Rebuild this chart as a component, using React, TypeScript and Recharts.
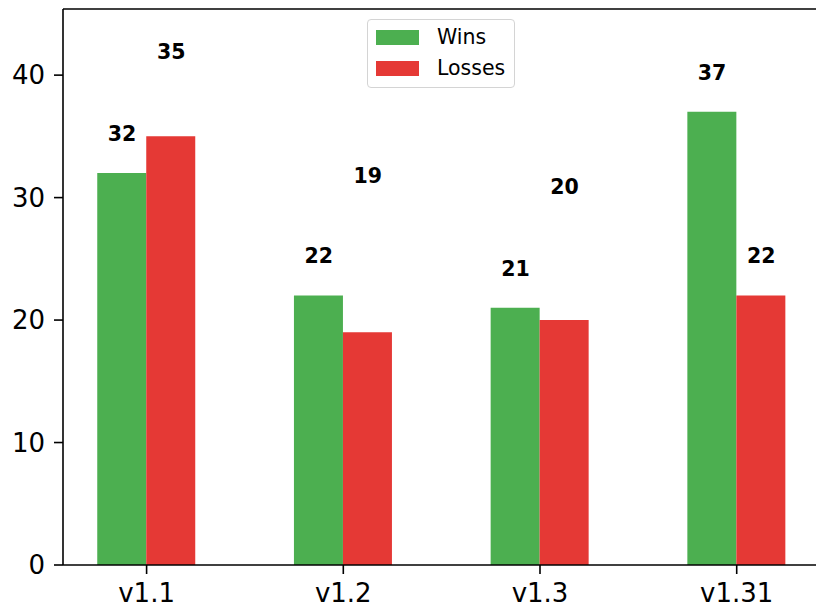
import React from 'react';
import { ComposedChart, Bar, Scatter, XAxis, YAxis, ReferenceLine } from 'recharts';

const categories = ['v1.1', 'v1.2', 'v1.3', 'v1.31'];
const wins = [32, 22, 21, 37];
const losses = [35, 19, 20, 22];
// vertical positions (in data units) where the value labels sit in the reference
const winLabelY = [35.2, 25.2, 24.2, 40.2];
const lossLabelY = [41.9, 31.8, 30.9, 25.2];
const yTicks = [0, 10, 20, 30, 40];
const xTicks = [0, 1, 2, 3];
const legendItems = ['Wins', 'Losses'];

const X_DOMAIN: [number, number] = [-0.425, 3.425];
const Y_MAX = 45.4;

const GREEN = '#4caf50';
const RED = '#e53935';
const FONT = 'DejaVu Sans';

const data = categories.map((c, i) => ({ idx: i, name: c, wins: wins[i], losses: losses[i] }));
const winLabels = categories.map((c, i) => ({ lx: i - 0.125, ly: winLabelY[i], text: wins[i] }));
const lossLabels = categories.map((c, i) => ({ lx: i + 0.125, ly: lossLabelY[i], text: losses[i] }));

const LabelShape = (p: any) => (
  <text
    x={p.cx}
    y={p.cy}
    textAnchor="middle"
    dominantBaseline="central"
    fontFamily={FONT}
    fontWeight="bold"
    fontSize={20.5}
    fill="#000"
  >
    {p.payload.text}
  </text>
);

const LegendBox = () => {
  const colors = [GREEN, RED];
  return (
    <div
      style={{
        position: 'absolute',
        left: 367,
        top: 19,
        width: 146,
        height: 67,
        border: '1.5px solid #d4d4d4',
        borderRadius: 4,
        background: 'rgba(255,255,255,0.85)',
        fontFamily: FONT,
        fontSize: 20.5,
        color: '#000',
      }}
    >
      {legendItems.map((label, i) => {
        const top = 10 + i * 31;
        return (
          <div key={label}>
            <div style={{ position: 'absolute', left: 8, top, width: 43, height: 15, background: colors[i] }} />
            <div
              style={{
                position: 'absolute',
                left: 69,
                top: top - 4,
                height: 23,
                lineHeight: '23px',
                whiteSpace: 'nowrap',
              }}
            >
              {label}
            </div>
          </div>
        );
      })}
    </div>
  );
};

export default function App() {
  return (
    <div style={{ position: 'absolute', left: 0, top: 0, width: 816, height: 610, overflow: 'hidden', background: '#fff' }}>
      <ComposedChart
        width={830}
        height={610}
        data={data}
        margin={{ top: 9, right: 9.7, bottom: 0, left: 0 }}
        barGap={0}
      >
        <XAxis
          xAxisId={0}
          type="number"
          dataKey="idx"
          domain={X_DOMAIN}
          allowDataOverflow
          ticks={xTicks}
          interval={0}
          tickFormatter={(v: number) => categories[v]}
          height={45}
          tickSize={9}
          tickMargin={10}
          axisLine={{ stroke: '#000', strokeWidth: 1.6 }}
          tickLine={{ stroke: '#000', strokeWidth: 1.6 }}
          tick={{ fill: '#000', fontSize: 26, fontFamily: FONT }}
        />
        <XAxis xAxisId="lbl" type="number" dataKey="lx" domain={X_DOMAIN} allowDataOverflow hide />
        <YAxis
          type="number"
          domain={[0, Y_MAX]}
          allowDataOverflow
          ticks={yTicks}
          interval={0}
          width={63}
          tickSize={9}
          tickMargin={9}
          axisLine={{ stroke: '#000', strokeWidth: 1.6 }}
          tickLine={{ stroke: '#000', strokeWidth: 1.6 }}
          tick={{ fill: '#000', fontSize: 26, fontFamily: FONT }}
        />
        <ReferenceLine y={Y_MAX} stroke="#000" strokeWidth={1.6} ifOverflow="extendDomain" />
        <Bar dataKey="wins" name="Wins" fill={GREEN} barSize={49} isAnimationActive={false} />
        <Bar dataKey="losses" name="Losses" fill={RED} barSize={49} isAnimationActive={false} />
        <Scatter xAxisId="lbl" data={winLabels} dataKey="ly" shape={LabelShape} isAnimationActive={false} />
        <Scatter xAxisId="lbl" data={lossLabels} dataKey="ly" shape={LabelShape} isAnimationActive={false} />
      </ComposedChart>
      <LegendBox />
    </div>
  );
}
